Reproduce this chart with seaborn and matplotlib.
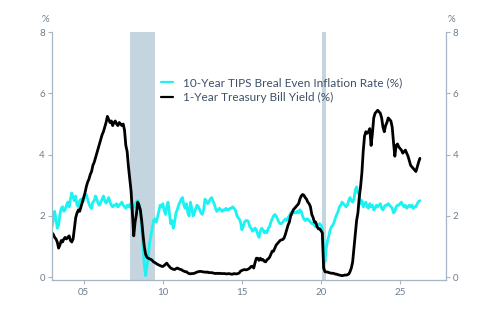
import numpy as np
import pandas as pd
import matplotlib
matplotlib.use("Agg")
import matplotlib.pyplot as plt
import seaborn as sns

# monthly observations, Jan 2003 onwards
start_year = 2003

breakeven = [
    1.65, 1.85, 2.15, 1.90, 1.60, 1.70, 2.05, 2.25, 2.30, 2.15, 2.20, 2.35,  # 2003
    2.45, 2.30, 2.55, 2.75, 2.60, 2.50, 2.65, 2.35, 2.30, 2.50, 2.55, 2.45,  # 2004
    2.50, 2.65, 2.70, 2.55, 2.40, 2.30, 2.25, 2.45, 2.50, 2.65, 2.55, 2.40,  # 2005
    2.35, 2.45, 2.55, 2.65, 2.50, 2.42, 2.50, 2.60, 2.45, 2.35, 2.30, 2.35,  # 2006
    2.35, 2.40, 2.30, 2.35, 2.40, 2.45, 2.35, 2.30, 2.25, 2.35, 2.30, 2.38,  # 2007
    2.25, 2.20, 2.35, 2.30, 2.45, 2.50, 2.35, 2.15, 1.65, 1.05, 0.40, 0.05,  # 2008
    0.35, 0.70, 1.10, 1.35, 1.60, 1.85, 1.90, 1.80, 1.95, 2.15, 2.35, 2.30,  # 2009
    2.40, 2.20, 2.05, 2.30, 2.45, 2.10, 1.75, 1.85, 1.60, 1.80, 2.10, 2.20,  # 2010
    2.35, 2.45, 2.55, 2.60, 2.35, 2.25, 2.40, 2.10, 2.00, 2.45, 2.25, 2.00,  # 2011
    2.10, 2.25, 2.35, 2.30, 2.20, 2.10, 2.05, 2.20, 2.55, 2.50, 2.40, 2.45,  # 2012
    2.55, 2.60, 2.50, 2.40, 2.25, 2.15, 2.20, 2.25, 2.20, 2.15, 2.20, 2.20,  # 2013
    2.25, 2.20, 2.20, 2.25, 2.25, 2.30, 2.25, 2.20, 2.05, 1.95, 1.90, 1.80,  # 2014
    1.55, 1.65, 1.80, 1.85, 1.85, 1.80, 1.65, 1.60, 1.50, 1.55, 1.60, 1.55,  # 2015
    1.40, 1.30, 1.50, 1.60, 1.55, 1.45, 1.50, 1.45, 1.60, 1.65, 1.80, 1.90,  # 2016
    2.00, 2.05, 2.00, 1.90, 1.80, 1.75, 1.75, 1.80, 1.85, 1.90, 1.85, 1.95,  # 2017
    2.00, 2.10, 2.05, 2.15, 2.10, 2.10, 2.15, 2.10, 2.20, 2.15, 2.00, 1.90,  # 2018
    1.85, 1.90, 1.90, 1.85, 1.80, 1.75, 1.75, 1.70, 1.65, 1.70, 1.70, 1.75,  # 2019
    1.70, 1.60, 0.90, 0.50, 0.95, 1.20, 1.35, 1.55, 1.65, 1.70, 1.80, 1.95,  # 2020
    2.05, 2.15, 2.30, 2.35, 2.45, 2.40, 2.35, 2.30, 2.35, 2.50, 2.60, 2.50,  # 2021
    2.45, 2.55, 2.85, 2.95, 2.75, 2.70, 2.40, 2.50, 2.30, 2.40, 2.45, 2.30,  # 2022
    2.25, 2.40, 2.30, 2.35, 2.20, 2.25, 2.35, 2.30, 2.35, 2.40, 2.25, 2.20,  # 2023
    2.30, 2.35, 2.35, 2.40, 2.35, 2.30, 2.25, 2.10, 2.15, 2.30, 2.35, 2.35,  # 2024
    2.40, 2.45, 2.35, 2.30, 2.35, 2.25, 2.30, 2.35, 2.30, 2.35, 2.25, 2.30,  # 2025
    2.30, 2.40, 2.47, 2.50,                                                  # 2026
]

tbill = [
    1.45, 1.40, 1.30, 1.25, 1.15, 0.95, 1.05, 1.20, 1.15, 1.25, 1.30, 1.25,  # 2003
    1.30, 1.35, 1.20, 1.15, 1.25, 1.60, 1.95, 2.10, 2.20, 2.15, 2.30, 2.45,  # 2004
    2.60, 2.75, 2.95, 3.10, 3.20, 3.35, 3.45, 3.65, 3.75, 3.90, 4.05, 4.20,  # 2005
    4.35, 4.50, 4.65, 4.75, 4.90, 5.05, 5.25, 5.15, 5.05, 5.10, 4.95, 5.05,  # 2006
    5.10, 5.00, 4.95, 5.05, 5.00, 4.95, 5.00, 4.80, 4.30, 4.10, 3.60, 3.20,  # 2007
    2.80, 2.10, 1.35, 1.80, 2.05, 2.45, 2.35, 2.20, 1.85, 1.40, 1.00, 0.75,  # 2008
    0.65, 0.62, 0.60, 0.58, 0.55, 0.50, 0.48, 0.45, 0.42, 0.40, 0.38, 0.36,  # 2009
    0.35, 0.38, 0.42, 0.46, 0.40, 0.35, 0.30, 0.28, 0.26, 0.25, 0.28, 0.30,  # 2010
    0.28, 0.26, 0.25, 0.22, 0.20, 0.18, 0.18, 0.14, 0.12, 0.11, 0.12, 0.12,  # 2011
    0.13, 0.15, 0.17, 0.18, 0.19, 0.19, 0.18, 0.17, 0.17, 0.16, 0.17, 0.15,  # 2012
    0.15, 0.15, 0.14, 0.13, 0.12, 0.13, 0.12, 0.13, 0.12, 0.12, 0.12, 0.12,  # 2013
    0.11, 0.11, 0.12, 0.11, 0.10, 0.10, 0.12, 0.11, 0.11, 0.12, 0.14, 0.20,  # 2014
    0.22, 0.24, 0.25, 0.24, 0.25, 0.27, 0.30, 0.35, 0.36, 0.30, 0.48, 0.62,  # 2015
    0.62, 0.55, 0.62, 0.56, 0.58, 0.52, 0.50, 0.57, 0.60, 0.65, 0.75, 0.85,  # 2016
    0.85, 0.95, 1.05, 1.10, 1.15, 1.20, 1.22, 1.23, 1.28, 1.40, 1.55, 1.70,  # 2017
    1.80, 2.00, 2.10, 2.20, 2.25, 2.30, 2.35, 2.40, 2.55, 2.65, 2.70, 2.68,  # 2018
    2.60, 2.55, 2.45, 2.40, 2.30, 2.05, 1.95, 1.80, 1.80, 1.65, 1.58, 1.58,  # 2019
    1.52, 1.45, 0.30, 0.18, 0.17, 0.17, 0.15, 0.14, 0.13, 0.13, 0.12, 0.10,  # 2020
    0.10, 0.08, 0.07, 0.06, 0.05, 0.06, 0.07, 0.07, 0.08, 0.10, 0.18, 0.30,  # 2021
    0.50, 0.95, 1.40, 1.85, 2.10, 2.60, 2.95, 3.40, 4.10, 4.60, 4.75, 4.70,  # 2022
    4.75, 4.85, 4.30, 4.70, 5.20, 5.35, 5.40, 5.45, 5.40, 5.35, 5.20, 4.90,  # 2023
    4.75, 4.95, 5.05, 5.20, 5.15, 5.10, 4.90, 4.40, 3.95, 4.30, 4.35, 4.25,  # 2024
    4.20, 4.15, 4.05, 4.10, 4.15, 4.05, 3.95, 3.80, 3.65, 3.60, 3.55, 3.50,  # 2025
    3.45, 3.60, 3.75, 3.88,                                                  # 2026
]

recessions = [(2007.92, 2009.5), (2020.08, 2020.3)]

label_be = "10-Year TIPS Breal Even Inflation Rate (%)"
label_tb = "1-Year Treasury Bill Yield (%)"

xtick_pos = [2005, 2010, 2015, 2020, 2025]
xtick_labels = ["05", "10", "15", "20", "25"]
ytick_pos = [0, 2, 4, 6, 8]

years = start_year + np.arange(len(tbill)) / 12

df = pd.concat([
    pd.DataFrame({"year": years, "value": breakeven, "series": label_be}),
    pd.DataFrame({"year": years, "value": tbill, "series": label_tb}),
])

sns.set_style("white")
plt.rcParams['font.family'] = ['Lato', 'DejaVu Sans']

axis_col = "#a7b6c5"
tick_txt = "#6e7d8d"
cyan = "#1cf2f2"

fig, ax = plt.subplots(figsize=(5, 3.12), dpi=100)
fig.subplots_adjust(left=0.104, right=0.892, bottom=0.1026, top=0.897)

for a, b in recessions:
    ax.axvspan(a, b, color="#c5d5df", lw=0, zorder=0)

sns.lineplot(data=df, x="year", y="value", hue="series",
             hue_order=[label_be, label_tb],
             palette=[cyan, "#000000"], lw=2.0, ax=ax, legend=False)

ax.set_xlim(2003, 2027.9)
ax.set_ylim(-0.09, 8)
ax.set_xticks(xtick_pos)
ax.set_xticklabels(xtick_labels)
ax.set_yticks(ytick_pos)
ax.set_xlabel("")
ax.set_ylabel("")

for s in ["left", "right", "bottom"]:
    ax.spines[s].set_color(axis_col)
    ax.spines[s].set_linewidth(0.9)
ax.spines["top"].set_visible(False)

ax.tick_params(axis="both", direction="out", length=3, width=0.8,
               color=axis_col, labelcolor=tick_txt, labelsize=7, pad=2)
ax.tick_params(axis="y", left=True, right=True, labelleft=True, labelright=True)
ax.tick_params(axis="x", bottom=True, pad=3)

fig.text(45 / 500, 1 - 20 / 312, "%", ha="center", va="center",
         fontsize=7, color=tick_txt)
fig.text(451 / 500, 1 - 20 / 312, "%", ha="center", va="center",
         fontsize=7, color=tick_txt)

handles = [plt.Line2D([], [], color=cyan, lw=1.6),
           plt.Line2D([], [], color="#000000", lw=1.6)]
leg = ax.legend(handles, [label_be, label_tb], loc="upper left",
                bbox_to_anchor=(161 / 500, 1 - 77 / 312),
                bbox_transform=fig.transFigure, frameon=False,
                fontsize=8.5, handlelength=1.0, handletextpad=0.85,
                labelspacing=0.35, borderpad=0, borderaxespad=0)
for t in leg.get_texts():
    t.set_color("#3e5068")

fig.savefig("out.png", dpi=100)
